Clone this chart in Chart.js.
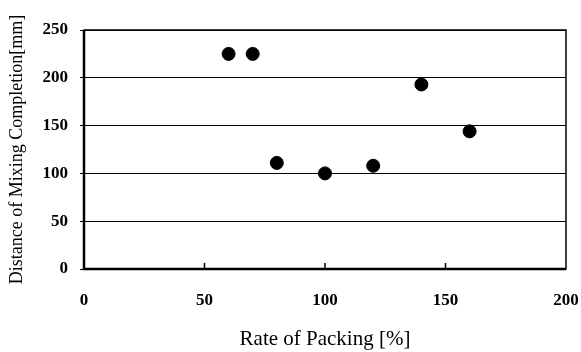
<!DOCTYPE html>
<html>
<head>
<meta charset="utf-8">
<script src="https://cdn.jsdelivr.net/npm/chart.js@4.4.1/dist/chart.umd.min.js"></script>
<style>
  html, body { margin: 0; padding: 0; background: #fff; }
  #wrap { width: 581px; height: 352px; }
</style>
</head>
<body>
<div id="wrap"><canvas id="packing"></canvas></div>
<script>
// values
const packingRate = [60, 70, 80, 100, 120, 140, 160];
const mixingDistance = [225, 225, 111, 100, 108, 193, 144];
const xTicks = [0, 50, 100, 150, 200];
const yTicks = [0, 50, 100, 150, 200, 250];

const font = "'Liberation Serif', 'Times New Roman', serif";

// frame round the plot area
const framePlugin = {
  id: "frame",
  afterDraw(chart) {
    const { ctx, chartArea: a } = chart;
    ctx.save();
    ctx.strokeStyle = "#000";
    ctx.lineWidth = 1.5;
    ctx.strokeRect(a.left, a.top, a.right - a.left, a.bottom - a.top);
    ctx.lineWidth = 2.5;
    ctx.beginPath();
    ctx.moveTo(a.left, a.top);
    ctx.lineTo(a.left, a.bottom);
    ctx.lineTo(a.right, a.bottom);
    ctx.stroke();
    // small inner tick marks on the x axis
    ctx.lineWidth = 1.5;
    const x = chart.scales.x;
    xTicks.slice(1, -1).forEach((v) => {
      const px = x.getPixelForValue(v);
      ctx.beginPath();
      ctx.moveTo(px, a.bottom);
      ctx.lineTo(px, a.bottom - 6);
      ctx.stroke();
    });
    ctx.restore();
  },
};

new Chart(document.getElementById("packing"), {
  type: "scatter",
  data: {
    datasets: [
      {
        data: packingRate.map((x, i) => ({ x, y: mixingDistance[i] })),
        backgroundColor: "#000",
        borderColor: "#000",
        pointRadius: 6.5,
        pointHoverRadius: 6.5,
      },
    ],
  },
  options: {
    responsive: true,
    maintainAspectRatio: false,
    animation: false,
    layout: { padding: { top: 30, right: 15, bottom: 0, left: 0 } },
    plugins: {
      legend: { display: false },
      tooltip: { enabled: false },
    },
    scales: {
      x: {
        type: "linear",
        min: 0,
        max: 200,
        afterBuildTicks: (s) => { s.ticks = xTicks.map((v) => ({ value: v })); },
        afterFit: (s) => {
          s.height = 83;
          s.paddingLeft = 0;
          s.paddingRight = 0;
        },
        grid: { display: false },
        border: { display: false },
        ticks: {
          color: "#000",
          padding: 13,
          maxRotation: 0,
          font: { family: font, size: 17, weight: "bold" },
        },
        title: {
          display: true,
          text: "Rate of Packing [%]",
          color: "#000",
          padding: { top: 0, bottom: 0 },
          font: { family: font, size: 21 },
        },
      },
      y: {
        type: "linear",
        min: 0,
        max: 250,
        afterBuildTicks: (s) => { s.ticks = yTicks.map((v) => ({ value: v })); },
        afterFit: (s) => {
          s.width = 84;
          s.paddingTop = 0;
          s.paddingBottom = 0;
        },
        grid: {
          color: "#000",
          lineWidth: 1,
          drawTicks: true,
          tickLength: 4,
        },
        border: { display: false },
        ticks: {
          color: "#000",
          padding: 12,
          font: { family: font, size: 17, weight: "bold" },
        },
        title: {
          display: true,
          text: "Distance of Mixing Completion[mm]",
          color: "#000",
          padding: { top: 6, bottom: 0 },
          font: { family: font, size: 18 },
        },
      },
    },
  },
  plugins: [framePlugin],
});
</script>
</body>
</html>
